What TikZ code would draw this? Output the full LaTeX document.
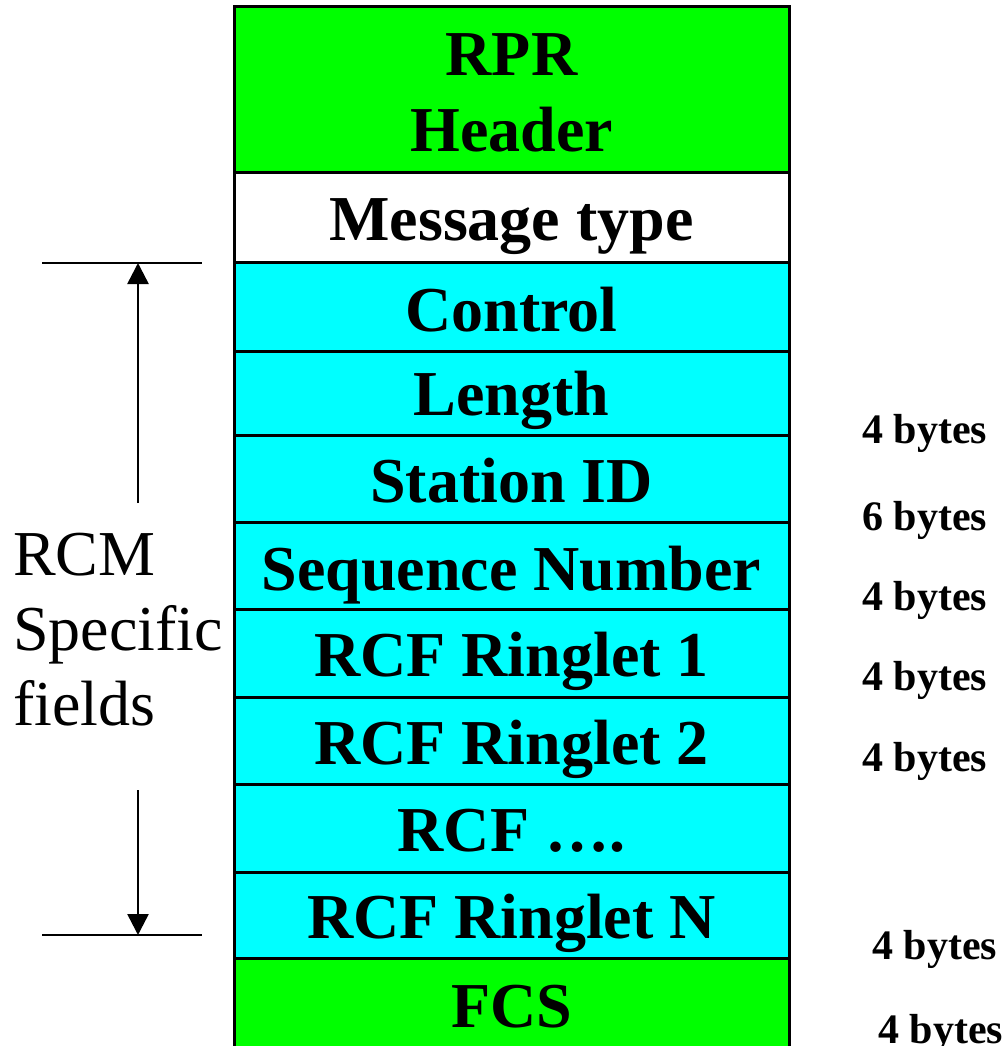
\documentclass[tikz,border=0pt]{standalone}
\usepackage{fontspec}
\setmainfont{Liberation Serif}
\usetikzlibrary{arrows.meta}
\definecolor{rprgreen}{RGB}{0,255,0}
\definecolor{rcmcyan}{RGB}{0,255,255}
\begin{document}
\begin{tikzpicture}[x=1pt,y=-1pt,
  rowbox/.style={draw=black, line width=3pt, minimum width=555pt, anchor=north west, inner sep=0pt, outer sep=0pt},
  fieldtxt/.style={font=\fontsize{64}{75}\selectfont\bfseries, anchor=base, inner sep=0pt},
  sizetxt/.style={font=\fontsize{42}{50}\selectfont\bfseries, anchor=base west, inner sep=0pt},
  dimline/.style={line width=2.5pt},
  dimarrow/.style={line width=2.5pt, -{Triangle[width=21pt,length=21pt]}}]
\useasboundingbox (0,0) rectangle (1003,1046);
\clip (0,0) rectangle (1003,1046);
% rows
\node[rowbox, fill=rprgreen, minimum height=165pt] (hdr) at (234,7) {};
\node[rowbox, fill=white, minimum height=90pt] (msg) at (234,172) {};
\node[rowbox, fill=rcmcyan, minimum height=89pt] (ctl) at (234,262) {};
\node[rowbox, fill=rcmcyan, minimum height=84pt] (len) at (234,351) {};
\node[rowbox, fill=rcmcyan, minimum height=87pt] (sid) at (234,435) {};
\node[rowbox, fill=rcmcyan, minimum height=87pt] (seq) at (234,522) {};
\node[rowbox, fill=rcmcyan, minimum height=88pt] (ra) at (234,609) {};
\node[rowbox, fill=rcmcyan, minimum height=87pt] (rb) at (234,697) {};
\node[rowbox, fill=rcmcyan, minimum height=88pt] (rd) at (234,784) {};
\node[rowbox, fill=rcmcyan, minimum height=86pt] (rn) at (234,872) {};
\node[rowbox, fill=rprgreen, minimum height=120pt] (fcs) at (234,958) {};
% row labels
\node[fieldtxt] (hdrA) at (511.5,76) {RPR};
\node[fieldtxt] (hdrB) at (511.5,151) {Header};
\node[fieldtxt] (msgT) at (511.5,240) {Message type};
\node[fieldtxt] (ctlT) at (511.5,331) {Control};
\node[fieldtxt] (lenT) at (511.5,415) {Length};
\node[fieldtxt] (sidT) at (511.5,502) {Station ID};
\node[fieldtxt] (seqT) at (511.5,590) {Sequence Number};
\node[fieldtxt] (raT) at (511.5,676) {RCF Ringlet 1};
\node[fieldtxt] (rbT) at (511.5,764) {RCF Ringlet 2};
\node[fieldtxt] (rdT) at (511.5,851) {RCF ….};
\node[fieldtxt] (rnT) at (511.5,938) {RCF Ringlet N};
\node[fieldtxt] (fcsT) at (511.5,1027) {FCS};
% sizes
\node[sizetxt] (s1) at (862,443) {4 bytes};
\node[sizetxt] (s2) at (862,530) {6 bytes};
\node[sizetxt] (s3) at (862,610) {4 bytes};
\node[sizetxt] (s4) at (862,690) {4 bytes};
\node[sizetxt] (s5) at (862,771) {4 bytes};
\node[sizetxt] (s6) at (872,959) {4 bytes};
\node[sizetxt] (s7) at (878,1043) {4 bytes};
% dimension marker
\coordinate (tl) at (42,263);
\coordinate (tr) at (202,263);
\coordinate (bl) at (42,935);
\coordinate (br) at (202,935);
\coordinate (tip1) at (138,263);
\coordinate (tail1) at (138,503);
\coordinate (tip2) at (138,935);
\coordinate (tail2) at (138,790);
\draw[dimline] (tl) -- (tr);
\draw[dimline] (bl) -- (br);
\draw[dimarrow] (tail1) -- (tip1);
\draw[dimarrow] (tail2) -- (tip2);
\node[font=\fontsize{64}{75}\selectfont, align=left, anchor=north west, inner sep=0pt] (rcm) at (13,532.5) {RCM\\Specific\\fields};
\end{tikzpicture}
\end{document}
